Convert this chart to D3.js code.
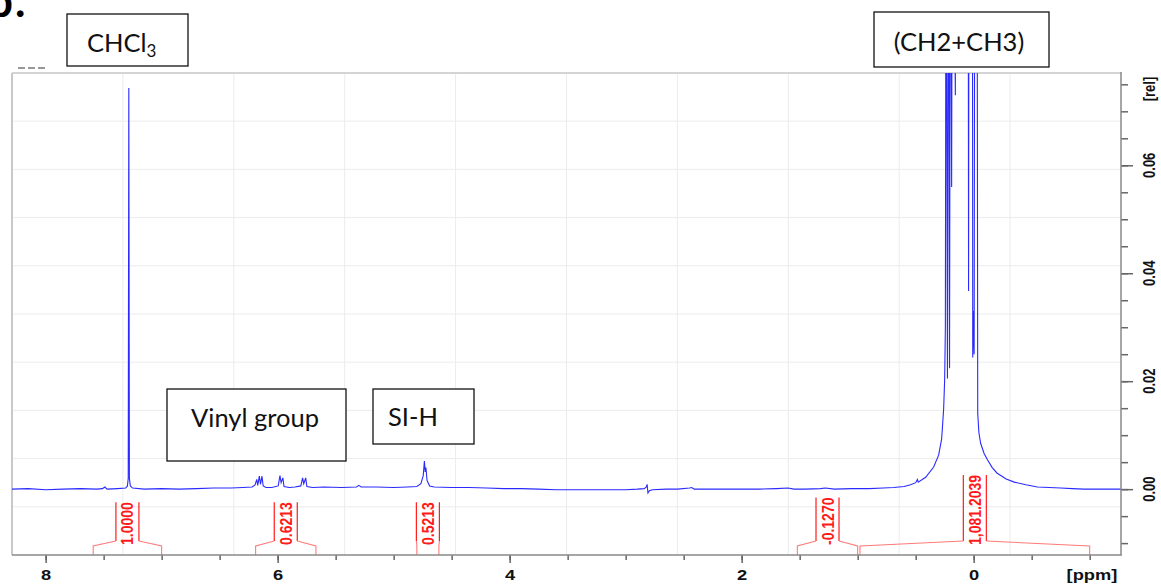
<!DOCTYPE html>
<html><head><meta charset="utf-8">
<script src="https://cdn.jsdelivr.net/npm/d3@7"></script>
<style>
html,body{margin:0;padding:0;background:#fff;overflow:hidden}
svg{display:block}
</style></head>
<body>
<svg id="chart" width="1161" height="586"></svg>
<script>
// ---------- data ----------
const ppmMajorTicks = [8, 6, 4, 2, 0];
const ppmMinorTicks = [8, 7.5, 7, 6.5, 6, 5.5, 5, 4.5, 4, 3.5, 3, 2.5, 2, 1.5, 1, 0.5, 0, -0.5, -1];
const relMajorTicks = [0.00, 0.02, 0.04, 0.06];
const relMinorTicks = [-0.010, -0.005, 0.000, 0.005, 0.010, 0.015, 0.020, 0.025, 0.030, 0.035,
  0.040, 0.045, 0.050, 0.055, 0.060, 0.065, 0.070, 0.075];

const spectrumPpm = [
  8.29, 8.15, 8.00, 7.85, 7.70, 7.56, 7.51, 7.49, 7.47, 7.38, 7.31, 7.295, 7.288, 7.283, 7.278, 7.27, 7.25,
  7.15, 7.00, 6.85, 6.70, 6.55, 6.40, 6.30, 6.22,
  6.195, 6.18, 6.172, 6.158, 6.148, 6.135, 6.125, 6.10, 6.05,
  5.995, 5.980, 5.970, 5.955, 5.945, 5.90, 5.85, 5.80,
  5.785, 5.775, 5.758, 5.748, 5.70, 5.60, 5.45, 5.32, 5.30, 5.28, 5.15, 5.00, 4.88,
  4.80, 4.765, 4.745, 4.735, 4.728, 4.722, 4.712, 4.69, 4.65,
  4.50, 4.35, 4.20, 4.05, 3.90, 3.75, 3.60, 3.45, 3.30, 3.15, 3.00, 2.90,
  2.84, 2.822, 2.815, 2.808, 2.795, 2.77, 2.65, 2.55, 2.45, 2.43, 2.41, 2.30, 2.15, 2.00,
  1.85, 1.70, 1.60, 1.55, 1.45, 1.32, 1.28, 1.20, 1.05, 0.90, 0.78, 0.69, 0.60, 0.544,
  0.50, 0.485, 0.478, 0.414, 0.345, 0.302, 0.276, 0.259, 0.250, 0.244,
  0.238, 0.226, 0.216, 0.208, 0.200, 0.190, 0.182, 0.158, 0.148, 0.10, 0.05,
  0.044, 0.039, 0.012, 0.008, 0.002, -0.004, -0.012, -0.030, -0.035, -0.045,
  -0.060, -0.090, -0.120, -0.160, -0.200, -0.280, -0.350, -0.450, -0.550, -0.650,
  -0.750, -0.850, -0.950, -1.050, -1.150, -1.270
];
const spectrumRel = [
  0.0000, 0.0001, -0.0001, 0.0000, 0.0001, 0.0000, 0.0001, 0.0004, 0.0000, 0.0001, 0.0002, 0.0006, 0.0020, 0.0743, 0.0020, 0.0006, 0.0002,
  0.0000, 0.0001, 0.0000, 0.0001, 0.0002, 0.0002, 0.0003, 0.0004,
  0.0008, 0.0018, 0.0007, 0.0024, 0.0009, 0.0024, 0.0006, 0.0003, 0.0003,
  0.0006, 0.0025, 0.0012, 0.0021, 0.0005, 0.0003, 0.0004, 0.0006,
  0.0021, 0.0010, 0.0021, 0.0005, 0.0003, 0.0004, 0.0003, 0.0004, 0.0007, 0.0004, 0.0004, 0.0003, 0.0004,
  0.0005, 0.0010, 0.0025, 0.0052, 0.0032, 0.0040, 0.0016, 0.0006, 0.0004,
  0.0003, 0.0003, 0.0002, 0.0001, 0.0001, 0.0000, -0.0001, -0.0001, -0.0001, -0.0001, -0.0001, 0.0000,
  0.0001, 0.0004, 0.0009, -0.0007, -0.0003, -0.0001, 0.0000, 0.0000, 0.0002, 0.0003, 0.0000, 0.0000, 0.0000, 0.0000,
  0.0000, 0.0001, 0.0002, 0.0000, 0.0000, 0.0001, 0.0002, 0.0000, 0.0001, 0.0001, 0.0002, 0.0003, 0.0005, 0.0008,
  0.0012, 0.0018, 0.0013, 0.0022, 0.0041, 0.0063, 0.0093, 0.0148, 0.0204, 0.0300,
  0.1200, 0.0205, 0.1300, 0.0224, 0.1300, 0.0560, 0.1400, 0.0730, 0.1800, 0.2500, 0.1800,
  0.0367, 0.1500, 0.1500, 0.0244, 0.0330, 0.0250, 0.1500, 0.1000, 0.0140, 0.0105,
  0.0085, 0.0066, 0.0054, 0.0040, 0.0030, 0.0019, 0.0013, 0.0008, 0.0004, 0.0003,
  0.0002, 0.0001, 0.0000, 0.0000, 0.0000, 0.0000
];

const integralLabels = ["1.0000", "0.6213", "0.5213", "-0.1270", "1,081.2039"];
const integralFrom = [7.59, 6.19, 4.80, 1.52, 0.98];
const integralTo = [7.00, 5.67, 4.61, 1.00, -1.00];

const annotationTexts = ["Vinyl group", "SI-H", "(CH2+CH3)"];

// ---------- layout ----------
const W = 1161, H = 586;
const L = 12, R = 1121, T = 73, B = 555;
const svg = d3.select("#chart");

const x = d3.scaleLinear().domain([8.29, -1.27]).range([L, R]);
const y = d3.scaleLinear().domain([-0.0122, 0.0771]).range([B, T]);

// grid (10 x 10 faint)
const grid = svg.append("g");
for (let i = 1; i < 10; i++) {
  const gx = L + (R - L) * i / 10, gy = T + (B - T) * i / 10;
  grid.append("line").attr("x1", gx).attr("x2", gx).attr("y1", T).attr("y2", B)
    .attr("stroke", "#ececec").attr("stroke-width", 1);
  grid.append("line").attr("x1", L).attr("x2", R).attr("y1", gy).attr("y2", gy)
    .attr("stroke", "#ececec").attr("stroke-width", 1);
}

// frame
svg.append("line").attr("x1", L).attr("x2", R).attr("y1", T).attr("y2", T)
  .attr("stroke", "#d4d4d4").attr("stroke-width", 2);
svg.append("line").attr("x1", L).attr("x2", L).attr("y1", T).attr("y2", B)
  .attr("stroke", "#c8c8c8").attr("stroke-width", 2);
svg.append("line").attr("x1", 18).attr("x2", 47).attr("y1", 68).attr("y2", 68)
  .attr("stroke", "#777").attr("stroke-width", 1.5).attr("stroke-dasharray", "7,3");

// clip
svg.append("clipPath").attr("id", "clip").append("rect")
  .attr("x", L).attr("y", T).attr("width", R - L).attr("height", B - T);

// spectrum
const pts = spectrumPpm.map((p, i) => [p, spectrumRel[i]]);
svg.append("path").datum(pts)
  .attr("clip-path", "url(#clip)")
  .attr("fill", "none").attr("stroke", "#2a2aff").attr("stroke-width", 1.1)
  .attr("stroke-linejoin", "miter")
  .attr("d", d3.line().x(d => x(d[0])).y(d => y(d[1])));

// integrals
const red = "#ff1a1a", pink = "#ff7b7b";
const ig = svg.append("g");
integralLabels.forEach((lab, i) => {
  const x1 = x(integralFrom[i]), x2 = x(integralTo[i]);
  const cx = (x1 + x2) / 2;
  const half = 11.5;
  const textBottom = 545;
  const t = ig.append("text")
    .attr("transform", `translate(${cx + 6},${textBottom}) rotate(-90) scale(1,1.22)`)
    .attr("font-family", "Liberation Sans, Arial, sans-serif")
    .attr("font-weight", "bold").attr("font-size", 14)
    .attr("fill", red).text(lab);
  const len = t.node().getComputedTextLength();
  const top = textBottom - len;
  const lineBottom = 541;
  [cx - half, cx + half].forEach(lx => {
    ig.append("line").attr("x1", lx).attr("x2", lx).attr("y1", top).attr("y2", lineBottom)
      .attr("stroke", red).attr("stroke-width", 1.2);
  });
  // brackets
  [[cx - half, x1], [cx + half, x2]].forEach(([from, to]) => {
    ig.append("path")
      .attr("d", `M${from},${lineBottom} L${to},546 L${to},555`)
      .attr("fill", "none").attr("stroke", pink).attr("stroke-width", 1.1);
  });
});

// x axis
const axisFont = "Liberation Sans, Arial, sans-serif";
const gxMinor = svg.append("g").attr("transform", `translate(0,${B})`)
  .call(d3.axisBottom(x).tickValues(ppmMinorTicks).tickSize(5).tickFormat(""));
const gxMajor = svg.append("g").attr("transform", `translate(0,${B})`)
  .call(d3.axisBottom(x).tickValues(ppmMajorTicks).tickSize(8).tickPadding(6).tickFormat(d3.format("d")));
[gxMinor, gxMajor].forEach(g => {
  g.select(".domain").remove();
  g.selectAll(".tick line").attr("stroke", "#666").attr("stroke-width", 1.5);
});
gxMajor.selectAll(".tick text")
  .attr("font-family", axisFont).attr("font-weight", "bold").attr("font-size", 15)
  .attr("fill", "#111").attr("transform", "scale(1.22,1)");
svg.append("text").attr("x", 0).attr("y", 0)
  .attr("transform", `translate(1092,580) scale(1.22,1)`)
  .attr("text-anchor", "middle")
  .attr("font-family", axisFont).attr("font-weight", "bold").attr("font-size", 15)
  .attr("fill", "#111").text("[ppm]");
svg.append("line").attr("x1", L).attr("x2", R + 1).attr("y1", B).attr("y2", B)
  .attr("stroke", "#888").attr("stroke-width", 1.5);

// right axis
const gyMinor = svg.append("g").attr("transform", `translate(${R},0)`)
  .call(d3.axisRight(y).tickValues(relMinorTicks).tickSize(7).tickFormat(""));
const gyMajor = svg.append("g").attr("transform", `translate(${R},0)`)
  .call(d3.axisRight(y).tickValues(relMajorTicks).tickSize(12).tickFormat(""));
[gyMinor, gyMajor].forEach(g => {
  g.select(".domain").remove();
  g.selectAll(".tick line").attr("stroke", "#666").attr("stroke-width", 1.5);
});
relMajorTicks.forEach(v => {
  svg.append("text")
    .attr("transform", `translate(1155,${y(v)}) rotate(-90) scale(1,1.22)`)
    .attr("text-anchor", "middle")
    .attr("font-family", axisFont).attr("font-weight", "bold").attr("font-size", 13)
    .attr("fill", "#111").text(d3.format(".2f")(v));
});
svg.append("text")
  .attr("transform", `translate(1155,89) rotate(-90) scale(1,1.22)`)
  .attr("text-anchor", "middle")
  .attr("font-family", axisFont).attr("font-weight", "bold").attr("font-size", 13)
  .attr("fill", "#111").text("[rel]");
svg.append("line").attr("x1", R).attr("x2", R).attr("y1", T - 1).attr("y2", B)
  .attr("stroke", "#888").attr("stroke-width", 1.5);

// annotation boxes
const annFont = "Lato, 'Open Sans', sans-serif";
function box(bx, by, bw, bh) {
  svg.append("rect").attr("x", bx).attr("y", by).attr("width", bw).attr("height", bh)
    .attr("fill", "#fff").attr("stroke", "#111").attr("stroke-width", 1.3);
}
box(67, 14, 121, 52);
const chcl = svg.append("text").attr("x", 87).attr("y", 52)
  .attr("font-family", annFont).attr("font-size", 25.5).attr("fill", "#111");
chcl.append("tspan").text("CHCl");
chcl.append("tspan").attr("font-size", 17).attr("dy", 5).text("3");

box(874, 12, 175, 55);
svg.append("text").attr("x", 959).attr("y", 51).attr("text-anchor", "middle")
  .attr("font-family", annFont).attr("font-size", 25.5).attr("fill", "#111").text(annotationTexts[2]);

box(167, 389, 179, 72);
svg.append("text").attr("x", 255).attr("y", 427).attr("text-anchor", "middle")
  .attr("font-family", annFont).attr("font-size", 25.5).attr("fill", "#111").text(annotationTexts[0]);

box(373, 389, 101, 55);
svg.append("text").attr("x", 413).attr("y", 426).attr("text-anchor", "middle")
  .attr("font-family", annFont).attr("font-size", 25.5).attr("fill", "#111").text(annotationTexts[1]);

// panel letter
svg.append("text").attr("x", 13).attr("y", 17).attr("text-anchor", "end")
  .attr("font-family", annFont).attr("font-weight", "bold").attr("font-size", 44).attr("fill", "#000").text("b");
svg.append("text").attr("x", 15).attr("y", 17)
  .attr("font-family", annFont).attr("font-weight", "bold").attr("font-size", 44).attr("fill", "#000").text(".");
</script>
</body></html>
